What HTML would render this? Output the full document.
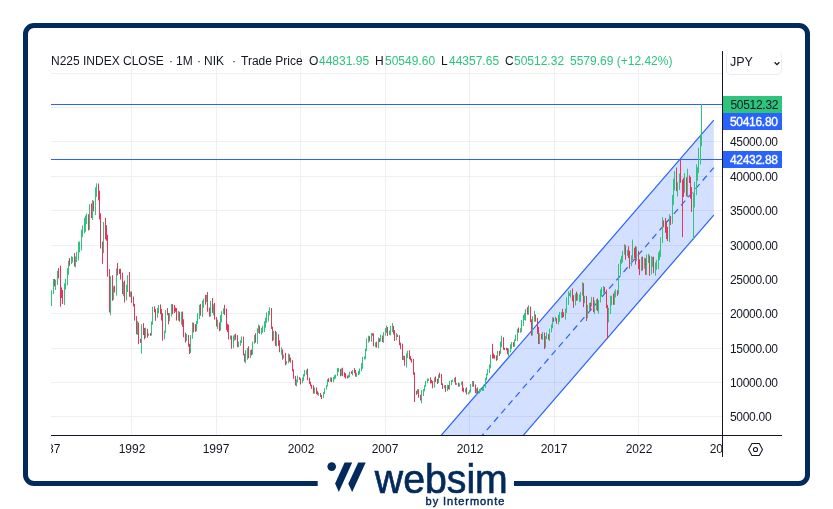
<!DOCTYPE html>
<html><head><meta charset="utf-8"><style>
html,body{margin:0;padding:0;background:#fff;width:833px;height:509px;overflow:hidden;position:relative;font-family:"Liberation Sans",sans-serif;-webkit-font-smoothing:antialiased}
.h,.yl,.tag,.xl,.jpy{will-change:transform}
.frame{position:absolute;left:23px;top:23px;width:777px;height:452.5px;border:5px solid #032a5c;border-radius:11px}
.h{position:absolute;top:54px;font-size:12px;color:#131722;white-space:nowrap;line-height:15px}
.h.g{color:#2ec47e}
.yl{position:absolute;left:730px;font-size:12px;color:#131722;line-height:14px;white-space:nowrap;letter-spacing:-0.3px}
.tag{position:absolute;left:723px;width:59px;height:17px;font-size:12px;line-height:19px;padding-left:7.5px;box-sizing:border-box;white-space:nowrap;letter-spacing:-0.3px;overflow:hidden}
.tag.w{-webkit-text-stroke:0.35px #fff;padding-left:7px}
.xclip{position:absolute;left:51px;top:441px;width:671px;height:18px;overflow:hidden}
.xl{position:absolute;top:0;width:60px;text-align:center;font-size:12px;color:#131722;line-height:16px;margin-left:-51px}
.jpy{position:absolute;left:726px;top:51px;width:56px;height:23.5px;border:1px solid #e9ebef;border-top-color:transparent;border-radius:5px;box-sizing:border-box;font-size:12.5px;color:#131722}
.logo{position:absolute;left:317px;top:455px;width:197px;height:54px;background:#fff}
</style></head><body>
<div class="frame"></div>
<svg width="833" height="509" style="position:absolute;left:0;top:0">
<defs><clipPath id="ca"><rect x="51" y="51" width="671" height="384"/></clipPath></defs>
<g clip-path="url(#ca)">
<path d="M131.5 51V435M216.5 51V435M300.5 51V435M385.5 51V435M469.5 51V435M554.5 51V435M638.5 51V435M51 416.5H722M51 382.5H722M51 348.5H722M51 313.5H722M51 279.5H722M51 245.5H722M51 210.5H722M51 176.5H722M51 141.5H722M51 107.5H722M51 73.5H722" stroke="#efefef" stroke-width="1" fill="none"/>
<path d="M411.2 470L713.8 120.2L713.8 215.1L493.3 470Z" fill="rgba(41,98,255,0.2)"/>
<path d="M411.2 470L713.8 120.2M713.8 215.1L493.3 470" stroke="#2962ff" stroke-width="1.2" fill="none"/>
<path d="M452.2 470L713.8 167.65" stroke="#2962ff" stroke-width="1.2" stroke-dasharray="6.3 4.7" stroke-dashoffset="2.2" fill="none"/>
<path d="M51 104.5H722M51 159.5H722" stroke="#2962ff" stroke-width="1" fill="none"/>
<path d="M50.50 299.91V308.76M51.50 290.21V306.03M53.50 279.06V294.17M55.50 279.95V290.04M57.50 270.79V284.91M64.50 283.22V305.08M65.50 278.76V289.62M67.50 268.19V285.39M68.50 260.73V274.82M71.50 256.30V264.11M72.50 256.70V262.52M75.50 256.56V267.40M76.50 251.77V262.02M78.50 242.08V260.50M79.50 241.40V252.47M81.50 229.67V250.44M82.50 225.49V237.14M84.50 217.77V233.28M85.50 215.46V231.80M86.50 213.46V224.08M89.50 204.28V229.81M92.50 199.96V219.99M95.50 187.34V215.05M96.50 183.47V196.93M103.50 221.97V253.21M110.50 275.99V315.31M113.50 286.41V299.84M116.50 268.51V295.65M123.50 281.91V296.22M126.50 284.68V300.42M127.50 275.17V292.06M130.50 291.66V297.19M137.50 320.92V334.81M141.50 324.11V353.72M145.50 327.68V337.98M148.50 333.46V335.76M151.50 321.54V335.51M152.50 306.76V324.71M157.50 307.91V317.89M158.50 304.92V313.35M164.50 330.65V339.40M165.50 310.10V333.11M169.50 312.86V321.14M171.50 304.04V316.48M178.50 310.99V320.61M181.50 311.73V324.68M186.50 333.94V340.99M190.50 335.11V353.02M192.50 322.55V338.75M196.50 320.94V331.35M197.50 313.22V323.87M199.50 304.82V319.08M202.50 300.51V316.95M203.50 298.63V307.78M206.50 294.89V302.11M210.50 300.88V316.68M213.50 304.32V315.29M217.50 319.62V328.96M220.50 315.11V330.59M221.50 311.19V322.46M223.50 308.38V314.07M230.50 335.49V339.70M233.50 335.52V348.24M234.50 334.55V340.68M238.50 341.66V347.27M240.50 340.28V345.82M241.50 336.36V343.07M245.50 350.24V363.39M247.50 347.93V359.84M250.50 350.15V358.09M252.50 341.53V354.67M254.50 335.05V343.87M257.50 328.15V343.61M258.50 324.52V332.99M261.50 327.80V334.51M262.50 325.66V332.81M264.50 321.25V332.05M265.50 317.75V327.71M266.50 312.49V322.79M268.50 311.09V321.44M269.50 307.26V315.33M273.50 330.74V340.39M276.50 332.07V346.62M281.50 347.42V354.74M283.50 354.52V358.39M286.50 361.05V364.32M288.50 353.54V363.29M296.50 379.54V386.43M297.50 375.65V382.47M302.50 377.56V383.18M303.50 374.17V380.87M304.50 369.96V376.48M306.50 369.66V374.87M314.50 387.47V393.72M318.50 392.56V395.85M323.50 392.18V398.12M324.50 388.34V393.96M326.50 385.13V389.54M327.50 379.17V386.48M330.50 377.25V381.77M333.50 376.98V382.24M334.50 375.17V379.48M335.50 374.58V378.59M337.50 368.10V376.01M338.50 368.05V372.21M341.50 368.41V375.61M348.50 374.68V377.91M349.50 371.76V377.25M352.50 369.98V375.38M356.50 372.71V377.04M358.50 370.89V375.20M359.50 368.44V374.36M361.50 363.04V371.25M362.50 356.83V368.86M364.50 356.42V359.44M365.50 348.54V359.30M366.50 338.41V351.11M368.50 335.58V342.77M371.50 333.12V341.78M375.50 342.30V347.18M378.50 337.40V348.37M380.50 334.66V341.48M383.50 332.13V342.78M385.50 328.00V335.70M386.50 325.49V333.05M389.50 330.58V334.91M390.50 325.94V335.27M392.50 322.97V332.07M396.50 332.96V340.33M403.50 355.55V360.23M406.50 353.33V367.55M407.50 350.75V358.09M417.50 389.19V393.74M421.50 390.11V403.22M423.50 389.13V395.96M424.50 385.22V391.37M425.50 380.97V386.76M427.50 378.53V383.21M428.50 378.68V381.03M434.50 377.42V387.60M438.50 374.64V382.99M444.50 384.99V388.25M447.50 384.73V391.18M449.50 380.82V389.69M451.50 380.14V385.16M452.50 379.54V381.39M454.50 377.89V382.31M456.50 382.96V384.85M459.50 383.47V386.49M461.50 381.66V384.40M465.50 388.51V392.49M468.50 392.25V394.35M469.50 389.98V393.55M470.50 383.92V392.60M472.50 381.04V386.66M476.50 388.38V394.55M479.50 389.08V393.46M480.50 388.29V391.84M482.50 388.29V390.71M483.50 384.61V391.06M485.50 377.86V387.94M486.50 373.69V380.30M487.50 369.23V375.40M489.50 364.44V373.05M490.50 354.68V368.39M497.50 350.93V360.16M500.50 341.48V353.94M501.50 335.69V347.38M508.50 348.48V356.07M510.50 344.20V352.45M511.50 342.04V349.22M514.50 339.34V346.67M515.50 334.62V341.08M517.50 328.85V341.16M520.50 328.20V332.82M521.50 319.87V332.02M523.50 314.81V326.01M524.50 312.91V320.00M525.50 309.09V320.63M528.50 305.27V314.85M532.50 316.20V335.42M534.50 310.90V321.74M539.50 333.27V344.19M542.50 332.08V339.98M545.50 336.02V347.71M546.50 332.37V339.00M549.50 328.62V341.14M551.50 324.38V332.35M552.50 317.17V328.26M555.50 316.83V321.09M558.50 314.86V324.46M559.50 311.94V321.86M561.50 311.91V317.88M565.50 308.56V319.64M566.50 297.30V313.13M568.50 291.16V304.92M569.50 292.94V296.01M570.50 290.10V297.55M575.50 293.72V305.45M577.50 293.41V300.48M579.50 294.44V302.22M580.50 291.93V301.44M582.50 282.18V295.77M584.50 295.84V303.24M587.50 304.92V318.30M589.50 302.90V310.89M591.50 296.85V306.46M594.50 300.35V314.13M596.50 299.34V310.14M598.50 300.15V313.67M600.50 289.36V302.62M601.50 287.16V296.26M603.50 286.02V293.55M608.50 307.79V322.38M610.50 295.79V314.02M611.50 295.66V305.35M614.50 291.18V304.91M615.50 289.32V297.40M618.50 263.77V294.27M620.50 259.35V274.90M621.50 255.79V263.80M622.50 250.95V262.42M624.50 244.15V254.69M627.50 249.88V255.82M631.50 255.38V266.21M632.50 239.58V260.18M636.50 246.76V261.12M641.50 256.86V271.21M644.50 257.59V268.66M646.50 254.49V274.96M648.50 253.68V263.00M651.50 256.24V274.30M652.50 256.91V266.87M655.50 262.30V275.77M656.50 259.82V269.89M658.50 252.44V269.14M659.50 250.35V259.97M660.50 237.27V256.87M662.50 217.13V242.85M669.50 214.12V242.07M672.50 195.06V223.76M673.50 178.69V204.91M674.50 171.10V190.52M677.50 182.23V196.44M679.50 173.66V189.85M684.50 173.29V192.70M687.50 168.73V197.14M693.50 192.80V239.61M694.50 181.70V207.50M696.50 164.33V195.11M697.50 167.21V180.84M698.50 147.81V173.09M700.50 135.32V164.54M701.50 103.77V146.34" stroke="#2ec47e" stroke-width="1" fill="none"/>
<path d="M54.50 278.89V286.37M58.50 268.09V278.45M60.50 265.68V306.68M61.50 287.33V297.96M62.50 289.98V304.00M69.50 258.13V265.86M74.50 253.10V266.51M88.50 214.26V230.46M91.50 203.48V218.00M93.50 200.81V211.47M98.50 183.75V200.36M99.50 190.71V219.41M100.50 213.48V248.49M102.50 241.61V263.95M105.50 217.96V239.35M106.50 225.20V240.82M107.50 234.74V276.68M109.50 269.11V312.43M112.50 275.22V300.80M114.50 285.69V292.52M117.50 262.93V275.30M119.50 268.94V274.02M120.50 268.78V279.52M122.50 272.68V294.13M124.50 280.56V302.49M129.50 272.05V296.81M131.50 291.39V302.85M133.50 296.46V306.48M134.50 303.84V320.63M136.50 316.16V334.37M138.50 322.58V344.21M140.50 338.86V342.64M143.50 323.16V335.08M144.50 327.95V339.36M147.50 328.74V337.74M150.50 332.94V335.90M154.50 306.33V312.25M155.50 309.19V320.82M160.50 304.44V314.27M161.50 308.86V320.55M162.50 313.26V340.70M167.50 308.07V315.17M168.50 313.04V324.31M172.50 304.11V314.26M174.50 304.99V313.06M175.50 307.57V311.74M176.50 308.06V320.58M179.50 311.82V321.69M182.50 311.56V326.82M183.50 319.29V337.25M185.50 332.68V342.62M188.50 335.08V346.59M189.50 343.81V354.07M193.50 322.62V332.41M195.50 324.00V331.86M200.50 303.89V315.62M205.50 294.87V304.65M207.50 292.14V311.79M209.50 307.56V316.63M212.50 298.04V312.96M214.50 302.92V319.54M216.50 317.02V326.48M219.50 322.52V331.22M224.50 304.81V314.95M226.50 308.62V330.11M227.50 323.72V332.15M228.50 324.66V339.43M231.50 335.53V348.76M235.50 333.78V339.81M237.50 335.12V347.22M243.50 336.64V355.33M244.50 353.81V361.80M248.50 346.23V358.20M251.50 349.46V355.34M255.50 333.25V342.77M259.50 325.63V333.84M271.50 308.07V328.93M272.50 326.66V341.07M275.50 330.74V345.88M278.50 334.26V345.91M279.50 340.35V352.27M282.50 349.42V359.71M285.50 352.83V365.38M289.50 354.46V361.45M290.50 357.69V362.64M292.50 360.21V371.25M293.50 369.31V378.75M295.50 375.90V385.47M299.50 377.16V379.76M300.50 378.38V384.52M307.50 368.64V380.18M309.50 377.72V383.85M310.50 381.65V386.34M311.50 384.70V388.93M313.50 385.24V393.63M316.50 387.50V394.15M317.50 391.23V394.84M320.50 393.05V396.98M321.50 394.93V399.03M328.50 378.22V382.01M331.50 377.59V382.25M340.50 368.84V376.37M342.50 367.69V376.12M344.50 372.25V377.40M345.50 373.12V378.68M347.50 375.62V378.39M351.50 371.32V373.79M354.50 368.08V373.10M355.50 370.00V376.55M369.50 336.25V341.33M372.50 333.29V335.73M373.50 333.43V346.24M376.50 341.77V347.67M379.50 338.49V342.07M382.50 335.54V342.13M387.50 327.00V335.94M393.50 325.76V334.43M394.50 330.05V341.01M397.50 334.53V336.92M399.50 335.20V345.21M400.50 342.62V349.23M402.50 343.77V360.08M404.50 355.94V365.63M409.50 350.28V359.27M410.50 356.11V360.50M411.50 358.67V362.60M413.50 359.01V374.76M414.50 372.24V402.06M416.50 390.74V394.79M418.50 389.21V397.74M420.50 394.80V400.49M430.50 377.35V383.43M431.50 379.88V383.26M432.50 380.90V388.27M435.50 376.49V381.96M437.50 378.78V383.99M439.50 372.81V377.87M441.50 373.88V385.02M442.50 383.39V388.95M445.50 385.13V391.89M448.50 384.98V389.32M455.50 376.91V384.76M458.50 382.61V386.67M462.50 381.48V391.36M463.50 387.76V392.31M466.50 387.35V394.63M473.50 381.11V386.70M475.50 384.52V393.20M477.50 387.43V393.28M492.50 343.86V358.49M493.50 353.36V358.47M494.50 354.95V358.65M496.50 355.29V360.80M499.50 350.81V355.96M503.50 337.23V349.71M504.50 347.66V350.06M506.50 347.71V350.15M507.50 348.12V354.21M513.50 342.16V346.86M518.50 327.56V332.70M527.50 307.25V314.49M530.50 306.58V322.08M531.50 319.26V335.68M535.50 314.42V321.70M537.50 317.74V333.93M538.50 326.86V344.05M541.50 333.93V339.19M544.50 332.81V349.11M548.50 334.18V339.63M553.50 317.70V321.93M556.50 318.01V323.75M562.50 308.92V317.90M563.50 312.37V317.00M572.50 288.46V301.24M573.50 295.20V307.81M576.50 291.57V300.85M583.50 283.22V307.12M586.50 295.93V321.03M590.50 302.60V310.50M593.50 297.23V312.05M597.50 298.46V311.08M604.50 287.02V292.58M606.50 289.63V308.20M607.50 304.86V338.84M613.50 293.53V304.73M617.50 290.18V295.85M625.50 245.19V259.54M628.50 246.19V258.01M629.50 250.81V268.69M634.50 247.78V258.16M635.50 246.21V264.62M638.50 250.98V269.24M639.50 259.40V275.06M642.50 256.61V270.38M645.50 258.30V274.78M649.50 255.35V275.81M653.50 256.63V273.14M663.50 220.38V227.23M665.50 217.86V232.70M666.50 220.89V238.94M667.50 226.82V240.98M670.50 216.01V224.96M676.50 167.56V191.16M680.50 159.62V182.49M682.50 179.74V237.10M683.50 177.82V197.01M686.50 177.45V196.39M689.50 175.32V183.00M690.50 176.91V198.58M691.50 187.12V211.93" stroke="#e5355a" stroke-width="1" fill="none"/>
<path d="M50.00 303.03h1.0V306.45h-1.0ZM51.00 291.29h1.0V303.03h-1.0ZM53.00 280.11h1.0V291.29h-1.0ZM55.00 282.94h1.0V285.09h-1.0ZM57.00 272.35h1.0V282.94h-1.0ZM64.00 288.23h1.0V303.05h-1.0ZM65.00 280.35h1.0V288.23h-1.0ZM67.00 270.76h1.0V280.35h-1.0ZM68.00 262.69h1.0V270.76h-1.0ZM71.00 260.39h1.0V262.81h-1.0ZM72.00 258.01h1.0V260.39h-1.0ZM75.00 259.33h1.0V263.16h-1.0ZM76.00 255.41h1.0V259.33h-1.0ZM78.00 247.94h1.0V255.41h-1.0ZM79.00 243.96h1.0V247.94h-1.0ZM81.00 234.18h1.0V243.96h-1.0ZM82.00 231.40h1.0V234.18h-1.0ZM84.00 225.54h1.0V231.40h-1.0ZM85.00 219.52h1.0V225.54h-1.0ZM86.00 215.71h1.0V219.52h-1.0ZM89.00 210.99h1.0V224.78h-1.0ZM92.00 206.30h1.0V214.59h-1.0ZM95.00 195.08h1.0V206.90h-1.0ZM96.00 183.75h1.0V195.08h-1.0ZM103.00 223.52h1.0V247.91h-1.0ZM110.00 278.09h1.0V307.03h-1.0ZM113.00 287.34h1.0V296.93h-1.0ZM116.00 269.74h1.0V291.16h-1.0ZM123.00 285.47h1.0V291.17h-1.0ZM126.00 286.88h1.0V297.74h-1.0ZM127.00 277.90h1.0V286.88h-1.0ZM130.00 293.28h1.0V295.33h-1.0ZM137.00 325.16h1.0V331.74h-1.0ZM141.00 327.13h1.0V341.92h-1.0ZM145.00 329.72h1.0V336.03h-1.0ZM148.00 334.26h1.0V335.26h-1.0ZM151.00 323.49h1.0V334.75h-1.0ZM152.00 307.48h1.0V323.49h-1.0ZM157.00 311.19h1.0V316.62h-1.0ZM158.00 306.74h1.0V311.19h-1.0ZM164.00 331.56h1.0V338.50h-1.0ZM165.00 312.23h1.0V331.56h-1.0ZM169.00 315.69h1.0V319.90h-1.0ZM171.00 307.11h1.0V315.69h-1.0ZM178.00 313.87h1.0V316.80h-1.0ZM181.00 315.70h1.0V320.15h-1.0ZM186.00 335.75h1.0V340.34h-1.0ZM190.00 336.64h1.0V351.50h-1.0ZM192.00 326.75h1.0V336.64h-1.0ZM196.00 322.44h1.0V329.92h-1.0ZM197.00 314.71h1.0V322.44h-1.0ZM199.00 308.21h1.0V314.71h-1.0ZM202.00 304.13h1.0V312.94h-1.0ZM203.00 299.77h1.0V304.13h-1.0ZM206.00 296.40h1.0V300.35h-1.0ZM210.00 303.10h1.0V312.65h-1.0ZM213.00 306.79h1.0V310.59h-1.0ZM217.00 323.72h1.0V325.28h-1.0ZM220.00 319.64h1.0V327.53h-1.0ZM221.00 313.33h1.0V319.64h-1.0ZM223.00 309.64h1.0V313.33h-1.0ZM230.00 336.93h1.0V338.14h-1.0ZM233.00 336.98h1.0V346.39h-1.0ZM234.00 335.59h1.0V336.98h-1.0ZM238.00 343.56h1.0V344.56h-1.0ZM240.00 342.46h1.0V343.56h-1.0ZM241.00 338.69h1.0V342.46h-1.0ZM245.00 358.05h1.0V359.13h-1.0ZM247.00 348.97h1.0V358.05h-1.0ZM250.00 351.62h1.0V356.14h-1.0ZM252.00 342.42h1.0V352.52h-1.0ZM254.00 336.48h1.0V342.42h-1.0ZM257.00 330.78h1.0V340.53h-1.0ZM258.00 328.50h1.0V330.78h-1.0ZM261.00 330.27h1.0V331.42h-1.0ZM262.00 327.95h1.0V330.27h-1.0ZM264.00 323.71h1.0V327.95h-1.0ZM265.00 321.13h1.0V323.71h-1.0ZM266.00 316.96h1.0V321.13h-1.0ZM268.00 314.08h1.0V316.96h-1.0ZM269.00 311.48h1.0V314.08h-1.0ZM273.00 331.60h1.0V339.02h-1.0ZM276.00 335.38h1.0V343.17h-1.0ZM281.00 350.59h1.0V351.59h-1.0ZM283.00 356.13h1.0V357.13h-1.0ZM286.00 361.93h1.0V362.93h-1.0ZM288.00 355.50h1.0V361.93h-1.0ZM296.00 380.03h1.0V384.10h-1.0ZM297.00 377.76h1.0V380.03h-1.0ZM302.00 378.51h1.0V382.57h-1.0ZM303.00 375.51h1.0V378.51h-1.0ZM304.00 372.29h1.0V375.51h-1.0ZM306.00 370.43h1.0V372.29h-1.0ZM314.00 387.95h1.0V391.90h-1.0ZM318.00 393.80h1.0V394.80h-1.0ZM323.00 393.38h1.0V397.46h-1.0ZM324.00 388.85h1.0V393.38h-1.0ZM326.00 385.55h1.0V388.85h-1.0ZM327.00 380.19h1.0V385.55h-1.0ZM330.00 378.71h1.0V381.04h-1.0ZM333.00 377.90h1.0V381.86h-1.0ZM334.00 377.17h1.0V378.17h-1.0ZM335.00 375.39h1.0V377.17h-1.0ZM337.00 370.76h1.0V375.39h-1.0ZM338.00 370.44h1.0V371.44h-1.0ZM341.00 369.78h1.0V374.05h-1.0ZM348.00 375.18h1.0V377.25h-1.0ZM349.00 372.32h1.0V375.18h-1.0ZM352.00 370.59h1.0V373.01h-1.0ZM356.00 373.78h1.0V375.62h-1.0ZM358.00 371.66h1.0V373.78h-1.0ZM359.00 369.49h1.0V371.66h-1.0ZM361.00 365.96h1.0V369.49h-1.0ZM362.00 357.98h1.0V365.96h-1.0ZM364.00 357.76h1.0V358.76h-1.0ZM365.00 349.06h1.0V357.76h-1.0ZM366.00 340.54h1.0V349.06h-1.0ZM368.00 336.84h1.0V340.54h-1.0ZM371.00 334.02h1.0V339.89h-1.0ZM375.00 344.70h1.0V345.70h-1.0ZM378.00 340.34h1.0V345.04h-1.0ZM380.00 338.56h1.0V340.43h-1.0ZM383.00 332.88h1.0V339.42h-1.0ZM385.00 331.79h1.0V332.88h-1.0ZM386.00 330.27h1.0V331.79h-1.0ZM389.00 331.68h1.0V332.68h-1.0ZM390.00 328.41h1.0V331.68h-1.0ZM392.00 326.60h1.0V328.41h-1.0ZM396.00 335.90h1.0V337.39h-1.0ZM403.00 357.78h1.0V358.78h-1.0ZM406.00 356.09h1.0V365.19h-1.0ZM407.00 352.73h1.0V356.09h-1.0ZM417.00 390.39h1.0V392.78h-1.0ZM421.00 395.55h1.0V399.27h-1.0ZM423.00 390.61h1.0V395.55h-1.0ZM424.00 385.84h1.0V390.61h-1.0ZM425.00 382.84h1.0V385.84h-1.0ZM427.00 380.10h1.0V382.84h-1.0ZM428.00 379.17h1.0V380.17h-1.0ZM434.00 378.80h1.0V387.05h-1.0ZM438.00 375.06h1.0V381.68h-1.0ZM444.00 385.73h1.0V386.80h-1.0ZM447.00 386.89h1.0V390.63h-1.0ZM449.00 382.98h1.0V388.04h-1.0ZM451.00 380.98h1.0V382.98h-1.0ZM452.00 380.92h1.0V381.92h-1.0ZM454.00 378.26h1.0V380.92h-1.0ZM456.00 383.59h1.0V384.59h-1.0ZM459.00 383.81h1.0V384.81h-1.0ZM461.00 383.70h1.0V384.70h-1.0ZM465.00 389.51h1.0V391.49h-1.0ZM468.00 393.17h1.0V394.17h-1.0ZM469.00 390.79h1.0V393.17h-1.0ZM470.00 384.45h1.0V390.79h-1.0ZM472.00 381.98h1.0V384.45h-1.0ZM476.00 389.38h1.0V392.57h-1.0ZM479.00 390.53h1.0V391.53h-1.0ZM480.00 390.32h1.0V391.32h-1.0ZM482.00 389.92h1.0V390.92h-1.0ZM483.00 386.36h1.0V389.92h-1.0ZM485.00 379.83h1.0V386.36h-1.0ZM486.00 374.73h1.0V379.83h-1.0ZM487.00 371.83h1.0V374.73h-1.0ZM489.00 366.07h1.0V371.83h-1.0ZM490.00 356.01h1.0V366.07h-1.0ZM497.00 351.92h1.0V359.25h-1.0ZM500.00 343.62h1.0V352.80h-1.0ZM501.00 339.30h1.0V343.62h-1.0ZM508.00 350.71h1.0V352.96h-1.0ZM510.00 347.06h1.0V350.71h-1.0ZM511.00 343.91h1.0V347.06h-1.0ZM514.00 340.10h1.0V345.25h-1.0ZM515.00 338.46h1.0V340.10h-1.0ZM517.00 331.26h1.0V338.46h-1.0ZM520.00 329.79h1.0V331.32h-1.0ZM521.00 322.07h1.0V329.79h-1.0ZM523.00 319.25h1.0V322.07h-1.0ZM524.00 317.10h1.0V319.25h-1.0ZM525.00 309.93h1.0V317.10h-1.0ZM528.00 309.78h1.0V312.18h-1.0ZM532.00 320.10h1.0V331.76h-1.0ZM534.00 315.54h1.0V320.10h-1.0ZM539.00 336.08h1.0V341.11h-1.0ZM542.00 332.81h1.0V336.72h-1.0ZM545.00 337.39h1.0V344.22h-1.0ZM546.00 335.20h1.0V337.39h-1.0ZM549.00 331.50h1.0V338.21h-1.0ZM551.00 325.43h1.0V331.50h-1.0ZM552.00 319.89h1.0V325.43h-1.0ZM555.00 319.86h1.0V320.86h-1.0ZM558.00 319.32h1.0V321.30h-1.0ZM559.00 316.20h1.0V319.32h-1.0ZM561.00 313.57h1.0V316.20h-1.0ZM565.00 311.35h1.0V316.23h-1.0ZM566.00 299.97h1.0V311.35h-1.0ZM568.00 295.07h1.0V299.97h-1.0ZM569.00 294.79h1.0V295.79h-1.0ZM570.00 292.50h1.0V294.79h-1.0ZM575.00 296.83h1.0V303.80h-1.0ZM577.00 297.95h1.0V298.95h-1.0ZM579.00 296.24h1.0V297.95h-1.0ZM580.00 294.10h1.0V296.24h-1.0ZM582.00 285.48h1.0V294.10h-1.0ZM584.00 297.64h1.0V300.60h-1.0ZM587.00 308.49h1.0V313.70h-1.0ZM589.00 304.28h1.0V308.49h-1.0ZM591.00 298.27h1.0V305.51h-1.0ZM594.00 305.03h1.0V309.67h-1.0ZM596.00 303.34h1.0V305.03h-1.0ZM598.00 301.73h1.0V308.96h-1.0ZM600.00 293.68h1.0V301.73h-1.0ZM601.00 291.15h1.0V293.68h-1.0ZM603.00 288.66h1.0V291.15h-1.0ZM608.00 312.47h1.0V321.25h-1.0ZM610.00 300.89h1.0V312.47h-1.0ZM611.00 298.07h1.0V300.89h-1.0ZM614.00 292.21h1.0V302.04h-1.0ZM615.00 291.90h1.0V292.90h-1.0ZM618.00 269.57h1.0V293.33h-1.0ZM620.00 262.62h1.0V269.57h-1.0ZM621.00 261.12h1.0V262.62h-1.0ZM622.00 252.16h1.0V261.12h-1.0ZM624.00 250.69h1.0V252.16h-1.0ZM627.00 252.89h1.0V253.89h-1.0ZM631.00 258.18h1.0V263.72h-1.0ZM632.00 248.81h1.0V258.18h-1.0ZM636.00 253.36h1.0V260.02h-1.0ZM641.00 260.03h1.0V268.93h-1.0ZM644.00 263.75h1.0V266.72h-1.0ZM646.00 260.16h1.0V269.85h-1.0ZM648.00 258.17h1.0V260.16h-1.0ZM651.00 261.64h1.0V272.98h-1.0ZM652.00 259.01h1.0V261.64h-1.0ZM655.00 263.43h1.0V271.90h-1.0ZM656.00 262.61h1.0V263.61h-1.0ZM658.00 258.52h1.0V262.61h-1.0ZM659.00 252.92h1.0V258.52h-1.0ZM660.00 238.95h1.0V252.92h-1.0ZM662.00 223.13h1.0V238.95h-1.0ZM669.00 221.08h1.0V239.14h-1.0ZM672.00 201.83h1.0V221.24h-1.0ZM673.00 182.03h1.0V201.83h-1.0ZM674.00 173.76h1.0V182.03h-1.0ZM677.00 186.69h1.0V187.69h-1.0ZM679.00 179.17h1.0V186.69h-1.0ZM684.00 182.62h1.0V190.60h-1.0ZM687.00 177.02h1.0V188.62h-1.0ZM693.00 203.49h1.0V206.43h-1.0ZM694.00 190.29h1.0V203.49h-1.0ZM696.00 172.95h1.0V190.29h-1.0ZM697.00 170.80h1.0V172.95h-1.0ZM698.00 157.61h1.0V170.80h-1.0ZM700.00 142.39h1.0V157.61h-1.0ZM701.00 104.03h1.0V143.08h-1.0Z" fill="#2ec47e"/>
<path d="M54.00 280.11h1.0V285.09h-1.0ZM58.00 272.35h1.0V273.35h-1.0ZM60.00 272.47h1.0V290.91h-1.0ZM61.00 290.91h1.0V295.33h-1.0ZM62.00 295.33h1.0V303.05h-1.0ZM69.00 262.69h1.0V263.69h-1.0ZM74.00 258.01h1.0V263.16h-1.0ZM88.00 215.71h1.0V224.78h-1.0ZM91.00 210.99h1.0V214.59h-1.0ZM93.00 206.30h1.0V207.30h-1.0ZM98.00 183.75h1.0V195.63h-1.0ZM99.00 195.63h1.0V213.48h-1.0ZM100.00 213.48h1.0V245.19h-1.0ZM102.00 245.19h1.0V247.91h-1.0ZM105.00 223.52h1.0V231.71h-1.0ZM106.00 231.71h1.0V237.93h-1.0ZM107.00 237.93h1.0V272.70h-1.0ZM109.00 272.70h1.0V307.03h-1.0ZM112.00 278.09h1.0V296.93h-1.0ZM114.00 287.34h1.0V291.16h-1.0ZM117.00 269.74h1.0V270.74h-1.0ZM119.00 270.54h1.0V271.79h-1.0ZM120.00 271.79h1.0V273.99h-1.0ZM122.00 273.99h1.0V291.17h-1.0ZM124.00 285.47h1.0V297.74h-1.0ZM129.00 277.90h1.0V295.33h-1.0ZM131.00 293.28h1.0V299.89h-1.0ZM133.00 299.89h1.0V304.59h-1.0ZM134.00 304.59h1.0V318.30h-1.0ZM136.00 318.30h1.0V331.74h-1.0ZM138.00 325.16h1.0V341.63h-1.0ZM140.00 341.63h1.0V342.63h-1.0ZM143.00 327.13h1.0V331.68h-1.0ZM144.00 331.68h1.0V336.03h-1.0ZM147.00 329.72h1.0V334.94h-1.0ZM150.00 334.26h1.0V335.26h-1.0ZM154.00 307.48h1.0V310.00h-1.0ZM155.00 310.00h1.0V316.62h-1.0ZM160.00 306.74h1.0V313.07h-1.0ZM161.00 313.07h1.0V315.84h-1.0ZM162.00 315.84h1.0V338.50h-1.0ZM167.00 312.23h1.0V313.82h-1.0ZM168.00 313.82h1.0V319.90h-1.0ZM172.00 307.11h1.0V309.38h-1.0ZM174.00 309.38h1.0V310.38h-1.0ZM175.00 309.39h1.0V310.39h-1.0ZM176.00 309.48h1.0V316.80h-1.0ZM179.00 313.87h1.0V320.15h-1.0ZM182.00 315.70h1.0V323.08h-1.0ZM183.00 323.08h1.0V334.06h-1.0ZM185.00 334.06h1.0V340.34h-1.0ZM188.00 335.75h1.0V345.17h-1.0ZM189.00 345.17h1.0V351.50h-1.0ZM193.00 326.75h1.0V328.15h-1.0ZM195.00 328.15h1.0V329.92h-1.0ZM200.00 308.21h1.0V312.94h-1.0ZM205.00 299.77h1.0V300.77h-1.0ZM207.00 296.40h1.0V309.04h-1.0ZM209.00 309.04h1.0V312.65h-1.0ZM212.00 303.10h1.0V310.59h-1.0ZM214.00 306.79h1.0V318.19h-1.0ZM216.00 318.19h1.0V325.28h-1.0ZM219.00 323.72h1.0V327.53h-1.0ZM224.00 309.64h1.0V311.52h-1.0ZM226.00 311.52h1.0V325.98h-1.0ZM227.00 325.98h1.0V328.32h-1.0ZM228.00 328.32h1.0V338.14h-1.0ZM231.00 336.93h1.0V346.39h-1.0ZM235.00 335.59h1.0V337.68h-1.0ZM237.00 337.68h1.0V343.77h-1.0ZM243.00 338.69h1.0V354.31h-1.0ZM244.00 354.31h1.0V359.13h-1.0ZM248.00 348.97h1.0V356.14h-1.0ZM251.00 351.62h1.0V352.62h-1.0ZM255.00 336.48h1.0V340.53h-1.0ZM259.00 328.50h1.0V331.42h-1.0ZM271.00 311.48h1.0V327.73h-1.0ZM272.00 327.73h1.0V339.02h-1.0ZM275.00 331.60h1.0V343.17h-1.0ZM278.00 335.38h1.0V343.04h-1.0ZM279.00 343.04h1.0V351.34h-1.0ZM282.00 350.59h1.0V356.53h-1.0ZM285.00 356.13h1.0V362.73h-1.0ZM289.00 355.50h1.0V360.12h-1.0ZM290.00 360.12h1.0V362.14h-1.0ZM292.00 362.14h1.0V369.76h-1.0ZM293.00 369.76h1.0V377.65h-1.0ZM295.00 377.65h1.0V384.10h-1.0ZM299.00 377.76h1.0V378.82h-1.0ZM300.00 378.82h1.0V382.57h-1.0ZM307.00 370.43h1.0V378.28h-1.0ZM309.00 378.28h1.0V383.40h-1.0ZM310.00 383.40h1.0V385.17h-1.0ZM311.00 385.17h1.0V386.79h-1.0ZM313.00 386.79h1.0V391.90h-1.0ZM316.00 387.95h1.0V392.33h-1.0ZM317.00 392.33h1.0V393.97h-1.0ZM320.00 393.80h1.0V396.49h-1.0ZM321.00 396.49h1.0V397.49h-1.0ZM328.00 380.19h1.0V381.19h-1.0ZM331.00 378.71h1.0V381.86h-1.0ZM340.00 370.44h1.0V374.05h-1.0ZM342.00 369.78h1.0V373.44h-1.0ZM344.00 373.44h1.0V375.12h-1.0ZM345.00 375.12h1.0V376.89h-1.0ZM347.00 376.89h1.0V377.89h-1.0ZM351.00 372.32h1.0V373.32h-1.0ZM354.00 370.59h1.0V371.59h-1.0ZM355.00 371.08h1.0V375.62h-1.0ZM369.00 336.84h1.0V339.89h-1.0ZM372.00 334.02h1.0V335.07h-1.0ZM373.00 335.07h1.0V344.96h-1.0ZM376.00 344.70h1.0V345.70h-1.0ZM379.00 340.34h1.0V341.34h-1.0ZM382.00 338.56h1.0V339.56h-1.0ZM387.00 330.27h1.0V332.45h-1.0ZM393.00 326.60h1.0V332.72h-1.0ZM394.00 332.72h1.0V337.39h-1.0ZM397.00 335.90h1.0V336.90h-1.0ZM399.00 336.23h1.0V343.50h-1.0ZM400.00 343.50h1.0V346.06h-1.0ZM402.00 346.06h1.0V357.86h-1.0ZM404.00 357.78h1.0V365.19h-1.0ZM409.00 352.73h1.0V358.62h-1.0ZM410.00 358.62h1.0V359.62h-1.0ZM411.00 359.34h1.0V361.43h-1.0ZM413.00 361.43h1.0V373.89h-1.0ZM414.00 373.89h1.0V392.34h-1.0ZM416.00 392.34h1.0V393.34h-1.0ZM418.00 390.39h1.0V396.34h-1.0ZM420.00 396.34h1.0V399.27h-1.0ZM430.00 379.17h1.0V381.64h-1.0ZM431.00 381.64h1.0V382.64h-1.0ZM432.00 382.32h1.0V387.05h-1.0ZM435.00 378.80h1.0V381.19h-1.0ZM437.00 381.19h1.0V382.19h-1.0ZM439.00 375.06h1.0V376.06h-1.0ZM441.00 375.28h1.0V384.14h-1.0ZM442.00 384.14h1.0V386.80h-1.0ZM445.00 385.73h1.0V390.63h-1.0ZM448.00 386.89h1.0V388.04h-1.0ZM455.00 378.26h1.0V383.81h-1.0ZM458.00 383.59h1.0V384.66h-1.0ZM462.00 383.70h1.0V389.73h-1.0ZM463.00 389.73h1.0V391.49h-1.0ZM466.00 389.51h1.0V393.32h-1.0ZM473.00 381.98h1.0V385.85h-1.0ZM475.00 385.85h1.0V392.57h-1.0ZM477.00 389.38h1.0V391.52h-1.0ZM492.00 356.01h1.0V357.01h-1.0ZM493.00 356.60h1.0V357.60h-1.0ZM494.00 357.27h1.0V358.27h-1.0ZM496.00 357.33h1.0V359.25h-1.0ZM499.00 351.92h1.0V352.92h-1.0ZM503.00 339.30h1.0V348.77h-1.0ZM504.00 348.77h1.0V349.77h-1.0ZM506.00 349.27h1.0V350.27h-1.0ZM507.00 349.36h1.0V352.96h-1.0ZM513.00 343.91h1.0V345.25h-1.0ZM518.00 331.26h1.0V332.26h-1.0ZM527.00 309.93h1.0V312.18h-1.0ZM530.00 309.78h1.0V321.43h-1.0ZM531.00 321.43h1.0V331.76h-1.0ZM535.00 315.54h1.0V320.44h-1.0ZM537.00 320.44h1.0V330.86h-1.0ZM538.00 330.86h1.0V341.11h-1.0ZM541.00 336.08h1.0V337.08h-1.0ZM544.00 332.81h1.0V344.22h-1.0ZM548.00 335.20h1.0V338.21h-1.0ZM553.00 319.89h1.0V320.89h-1.0ZM556.00 319.86h1.0V321.30h-1.0ZM562.00 313.57h1.0V314.57h-1.0ZM563.00 314.32h1.0V316.23h-1.0ZM572.00 292.50h1.0V299.58h-1.0ZM573.00 299.58h1.0V303.80h-1.0ZM576.00 296.83h1.0V298.66h-1.0ZM583.00 285.48h1.0V300.60h-1.0ZM586.00 297.64h1.0V313.70h-1.0ZM590.00 304.28h1.0V305.51h-1.0ZM593.00 298.27h1.0V309.67h-1.0ZM597.00 303.34h1.0V308.96h-1.0ZM604.00 288.66h1.0V291.77h-1.0ZM606.00 291.77h1.0V305.94h-1.0ZM607.00 305.94h1.0V321.25h-1.0ZM613.00 298.07h1.0V302.04h-1.0ZM617.00 291.90h1.0V293.33h-1.0ZM625.00 250.69h1.0V253.21h-1.0ZM628.00 252.89h1.0V253.89h-1.0ZM629.00 253.36h1.0V263.72h-1.0ZM634.00 248.81h1.0V252.66h-1.0ZM635.00 252.66h1.0V260.02h-1.0ZM638.00 253.36h1.0V265.66h-1.0ZM639.00 265.66h1.0V268.93h-1.0ZM642.00 260.03h1.0V266.72h-1.0ZM645.00 263.75h1.0V269.85h-1.0ZM649.00 258.17h1.0V272.98h-1.0ZM653.00 259.01h1.0V271.90h-1.0ZM663.00 223.13h1.0V224.13h-1.0ZM665.00 223.24h1.0V227.04h-1.0ZM666.00 227.04h1.0V232.28h-1.0ZM667.00 232.28h1.0V239.14h-1.0ZM670.00 221.08h1.0V222.08h-1.0ZM676.00 173.76h1.0V187.26h-1.0ZM680.00 179.17h1.0V182.47h-1.0ZM682.00 182.47h1.0V185.60h-1.0ZM683.00 185.60h1.0V190.60h-1.0ZM686.00 182.62h1.0V188.62h-1.0ZM689.00 177.02h1.0V179.24h-1.0ZM690.00 179.24h1.0V195.85h-1.0ZM691.00 195.85h1.0V206.43h-1.0Z" fill="#e5355a"/>
</g>
<path d="M722.5 51V457M51 435.5H782" stroke="#131722" stroke-width="1" fill="none"/>
<path d="M748.6 449.5L751.9 443.5H759.3L762.5 449.5L759.3 455.5H751.9Z" stroke="#131722" stroke-width="1.05" fill="none"/><circle cx="755.5" cy="449.5" r="2.05" stroke="#131722" stroke-width="1.05" fill="none"/>
</svg>
<span class="h" style="left:50.6px">N225 INDEX CLOSE</span><span class="h" style="left:168.6px">·</span><span class="h" style="left:175.6px">1M</span><span class="h" style="left:197.2px">·</span><span class="h" style="left:204.4px">NIK</span><span class="h" style="left:232.2px">·</span><span class="h" style="left:240.7px">Trade Price</span><span class="h" style="left:309.4px">O</span><span class="h g" style="left:319.4px">44831.95</span><span class="h" style="left:374.6px">H</span><span class="h g" style="left:385.0px">50549.60</span><span class="h" style="left:440.8px">L</span><span class="h g" style="left:449.0px">44357.65</span><span class="h" style="left:504.7px">C</span><span class="h g" style="left:514.2px">50512.32</span><span class="h g" style="left:569.8px">5579.69 (+12.42%)</span>
<div class="yl" style="top:410.3px">5000.00</div>
<div class="yl" style="top:375.9px">10000.00</div>
<div class="yl" style="top:341.6px">15000.00</div>
<div class="yl" style="top:307.2px">20000.00</div>
<div class="yl" style="top:272.8px">25000.00</div>
<div class="yl" style="top:238.5px">30000.00</div>
<div class="yl" style="top:204.1px">35000.00</div>
<div class="yl" style="top:169.7px">40000.00</div>
<div class="yl" style="top:135.3px">45000.00</div>

<div class="tag" style="top:96px;background:#2ec47e;color:#131722">50512.32</div>
<div class="tag w" style="top:113px;background:#2962ff;color:#fff">50416.80</div>
<div class="tag w" style="top:151px;background:#2962ff;color:#fff">42432.88</div>
<div class="xclip"><div class="xl" style="left:17.0px">1987</div>
<div class="xl" style="left:101.5px">1992</div>
<div class="xl" style="left:186.0px">1997</div>
<div class="xl" style="left:270.5px">2002</div>
<div class="xl" style="left:355.0px">2007</div>
<div class="xl" style="left:439.5px">2012</div>
<div class="xl" style="left:524.0px">2017</div>
<div class="xl" style="left:608.5px">2022</div>
<div class="xl" style="left:693.0px">2027</div>
</div>
<div class="jpy"><span style="position:absolute;left:3px;top:3.3px;line-height:15px">JPY</span><svg style="position:absolute;left:46px;top:8.6px" width="8" height="6"><path d="M1.6 1.3L4 3.7L6.4 1.3" stroke="#131722" stroke-width="1.3" fill="none"/></svg></div>
<svg width="833" height="509" style="position:absolute;left:0;top:0">
<rect x="317.7" y="470" width="196.3" height="20" fill="#fff"/>
<g fill="#032a5c">
<circle cx="331.7" cy="466.6" r="4.3"/>
<path d="M344.6 462.6H352.2L338.8 492L335.1 483.4Z"/>
<path d="M358.2 462.6H365.7L352.2 492L348.3 483.7Z"/>
<text x="374.8" y="492.5" font-family="Liberation Sans" font-size="41.4" textLength="133" lengthAdjust="spacingAndGlyphs" stroke="#032a5c" stroke-width="0.7">websim</text>
<text x="425.6" y="505.1" font-family="Liberation Sans" font-size="11" letter-spacing="0.95" stroke="#032a5c" stroke-width="0.45">by Intermonte</text>
</g>
</svg>
</body></html>
